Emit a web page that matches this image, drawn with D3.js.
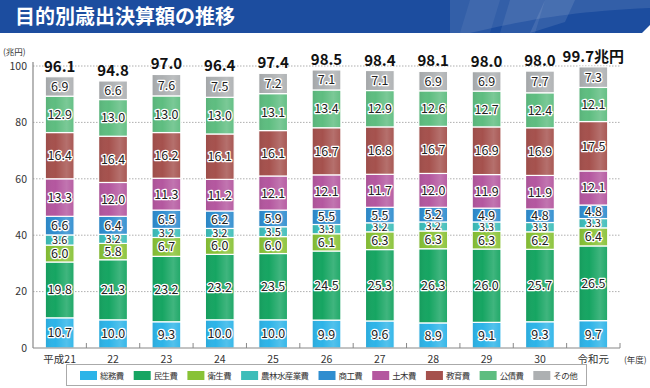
<!DOCTYPE html>
<html>
<head>
<meta charset="utf-8">
<script src="https://cdn.jsdelivr.net/npm/d3@7"></script>
<style>
  body { margin: 0; background: #fff; }
  svg { display: block; font-family: "Noto Sans CJK JP", "Noto Sans", sans-serif; }
</style>
</head>
<body>
<svg width="650" height="388"></svg>
<script>
// data
var years = ['平成21', '22', '23', '24', '25', '26', '27', '28', '29', '30', '令和元'];
var categories = ['総務費', '民生費', '衛生費', '農林水産業費', '商工費', '土木費', '教育費', '公債費', 'その他'];
var colors = ['#2db4e8', '#16a562', '#88c236', '#3dbdb9', '#2f8dcf', '#b4579f', '#a5514d', '#5ebd80', '#adb0b2'];

var soumu    = [10.7, 10.0, 9.3, 10.0, 10.0, 9.9, 9.6, 8.9, 9.1, 9.3, 9.7];
var minsei   = [19.8, 21.3, 23.2, 23.2, 23.5, 24.5, 25.3, 26.3, 26.0, 25.7, 26.5];
var eisei    = [6.0, 5.8, 6.7, 6.0, 6.0, 6.1, 6.3, 6.3, 6.3, 6.2, 6.4];
var nourin   = [3.6, 3.2, 3.2, 3.2, 3.5, 3.3, 3.2, 3.2, 3.3, 3.3, 3.3];
var shoukou  = [6.6, 6.4, 6.5, 6.2, 5.9, 5.5, 5.5, 5.2, 4.9, 4.8, 4.8];
var doboku   = [13.3, 12.0, 11.3, 11.2, 12.1, 12.1, 11.7, 12.0, 11.9, 11.9, 12.1];
var kyouiku  = [16.4, 16.4, 16.2, 16.1, 16.1, 16.7, 16.8, 16.7, 16.9, 16.9, 17.5];
var kousai   = [12.9, 13.0, 13.0, 13.0, 13.1, 13.4, 12.9, 12.6, 12.7, 12.4, 12.1];
var sonota   = [6.9, 6.6, 7.6, 7.5, 7.2, 7.1, 7.1, 6.9, 6.9, 7.7, 7.3];
var totals   = [96.1, 94.8, 97.0, 96.4, 97.4, 98.5, 98.4, 98.1, 98.0, 98.0, 99.7];
var yTicks   = [0, 20, 40, 60, 80, 100];

var series = [soumu, minsei, eisei, nourin, shoukou, doboku, kyouiku, kousai, sonota];

var svg = d3.select('svg');
var defs = svg.append('defs');

// title bar
svg.append('rect')
    .attr('x', 0).attr('y', 0).attr('width', 650).attr('height', 33)
    .attr('fill', '#1c4d9f');
var deco = svg.append('g').attr('fill', '#ffffff');
deco.append('path').attr('d', 'M450,0 L650,0 L650,8 C560,12 520,22 470,33 L450,33 Z').attr('opacity', 0.10);
deco.append('path').attr('d', 'M470,0 L500,0 L490,33 L460,33 Z').attr('opacity', 0.06);
deco.append('path').attr('d', 'M510,0 L545,0 L535,33 L500,33 Z').attr('opacity', 0.08);
deco.append('path').attr('d', 'M545,0 L575,0 L565,22 L530,33 Z').attr('opacity', 0.10);
deco.append('path').attr('d', 'M642,33 L650,25 L650,33 Z').attr('opacity', 1);
svg.append('text')
    .attr('x', 15).attr('y', 24)
    .attr('fill', '#fff')
    .attr('font-size', 20)
    .attr('font-weight', 'bold')
    .text('目的別歳出決算額の推移');

var padding = {t: 66, l: 33, r: 30, b: 40};
var chartWidth = 620 - padding.l;
var chartHeight = 348 - padding.t;

var chartEls = svg.append('g')
    .attr('transform', 'translate(' + [padding.l, padding.t] + ')');

var xScale = d3.scaleBand()
    .domain(years)
    .range([0, chartWidth])
    .paddingInner(0.46)
    .paddingOuter(0.23);

var xTickScale = d3.scaleLinear()
    .domain([0, years.length])
    .range([0, chartWidth]);

var yScale = d3.scaleLinear()
    .domain([0, 100])
    .range([chartHeight, 0]);

// gridlines
chartEls.append('g')
    .selectAll('line')
    .data(yTicks.filter(function(d) { return d > 0; }))
    .enter().append('line')
    .attr('x1', 0).attr('x2', chartWidth)
    .attr('y1', function(d) { return yScale(d); })
    .attr('y2', function(d) { return yScale(d); })
    .attr('stroke', '#9a9a9a')
    .attr('stroke-width', 0.8)
    .attr('stroke-dasharray', '1.5,1.5');

// y axis
var yAxisG = chartEls.append('g')
    .call(d3.axisLeft(yScale).tickValues(yTicks).tickSize(0).tickPadding(6));
yAxisG.select('.domain').attr('stroke', '#888').attr('stroke-width', 1.2).attr('d', 'M0,' + chartHeight + 'V-4');
yAxisG.selectAll('text').attr('font-size', 10.5).attr('fill', '#333')
    .attr('font-family', '"Noto Sans CJK JP", sans-serif');

svg.append('text')
    .attr('x', 3).attr('y', 55)
    .attr('font-size', 8.5).attr('fill', '#333')
    .text('(兆円)');

// stacked bars
var stackRows = years.map(function(y, i) {
    var row = {year: y};
    categories.forEach(function(c, k) { row[c] = series[k][i]; });
    return row;
});
var stacked = d3.stack().keys(categories)(stackRows);

// highlight overlay
var hl = defs.append('linearGradient').attr('id', 'shine')
    .attr('x1', '0%').attr('x2', '100%').attr('y1', '0%').attr('y2', '0%');
hl.append('stop').attr('offset', '0%').attr('stop-color', '#000').attr('stop-opacity', 0.06);
hl.append('stop').attr('offset', '35%').attr('stop-color', '#fff').attr('stop-opacity', 0.0);
hl.append('stop').attr('offset', '75%').attr('stop-color', '#fff').attr('stop-opacity', 0.18);
hl.append('stop').attr('offset', '100%').attr('stop-color', '#fff').attr('stop-opacity', 0.05);

var layers = chartEls.selectAll('.layer')
    .data(stacked)
    .enter().append('g')
    .attr('class', 'layer');

layers.selectAll('rect.seg')
    .data(function(d) { return d.map(function(p) { return {p: p, key: d.key}; }); })
    .enter().append('rect')
    .attr('class', 'seg')
    .attr('x', function(d) { return xScale(d.p.data.year); })
    .attr('width', xScale.bandwidth())
    .attr('y', function(d) { return yScale(d.p[1]); })
    .attr('height', function(d) { return yScale(d.p[0]) - yScale(d.p[1]); })
    .attr('fill', function(d) { return colors[categories.indexOf(d.key)]; })
    .attr('stroke', '#fff')
    .attr('stroke-width', 1.2);

layers.selectAll('rect.shine')
    .data(function(d) { return d.map(function(p) { return {p: p, key: d.key}; }); })
    .enter().append('rect')
    .attr('class', 'shine')
    .attr('x', function(d) { return xScale(d.p.data.year) + 0.6; })
    .attr('width', xScale.bandwidth() - 1.2)
    .attr('y', function(d) { return yScale(d.p[1]) + 0.6; })
    .attr('height', function(d) { return Math.max(0, yScale(d.p[0]) - yScale(d.p[1]) - 1.2); })
    .attr('fill', 'url(#shine)');

// small segments (3.x) get a slightly smaller label so they don't collide
layers.selectAll('text')
    .data(function(d) { return d.map(function(p) { return {p: p, key: d.key}; }); })
    .enter().append('text')
    .attr('x', function(d) { return xScale(d.p.data.year) + xScale.bandwidth() / 2; })
    .attr('y', function(d) { return (yScale(d.p[0]) + yScale(d.p[1])) / 2; })
    .attr('dy', '0.36em')
    .attr('text-anchor', 'middle')
    .attr('font-size', function(d) { return d.key === '農林水産業費' ? 11 : 12.5; })
    .attr('fill', '#222')
    .attr('stroke', '#fff')
    .attr('stroke-width', 2.6)
    .attr('stroke-linejoin', 'round')
    .attr('paint-order', 'stroke')
    .text(function(d) { return d.p.data[d.key].toFixed(1); });

// totals
chartEls.append('g')
    .selectAll('text')
    .data(totals)
    .enter().append('text')
    .attr('x', function(d, i) { return xScale(years[i]) + xScale.bandwidth() / 2; })
    .attr('y', function(d, i) { return yScale(stacked[stacked.length - 1][i][1]) - 5; })
    .attr('text-anchor', 'middle')
    .attr('font-size', 15)
    .attr('font-weight', 'bold')
    .attr('fill', '#111')
    .text(function(d, i) { return d.toFixed(1) + (i === totals.length - 1 ? '兆円' : ''); });

// x axis
var xAxisG = chartEls.append('g')
    .attr('transform', 'translate(' + [0, chartHeight] + ')');
xAxisG.append('line')
    .attr('x1', 0).attr('x2', chartWidth)
    .attr('stroke', '#888').attr('stroke-width', 1.2);
xAxisG.selectAll('line.tick')
    .data(d3.range(1, years.length + 1))
    .enter().append('line')
    .attr('class', 'tick')
    .attr('x1', function(d) { return xTickScale(d); })
    .attr('x2', function(d) { return xTickScale(d); })
    .attr('y1', 0).attr('y2', -5)
    .attr('stroke', '#888').attr('stroke-width', 1);
xAxisG.selectAll('text')
    .data(years)
    .enter().append('text')
    .attr('x', function(d) { return xScale(d) + xScale.bandwidth() / 2; })
    .attr('y', 15)
    .attr('text-anchor', 'middle')
    .attr('font-size', 10.5)
    .attr('fill', '#333')
    .text(function(d) { return d; });
xAxisG.append('text')
    .attr('x', chartWidth + 4).attr('y', 15)
    .attr('font-size', 8.5).attr('fill', '#333')
    .text('(年度)');

// legend
var legend = svg.append('g');
legend.append('rect')
    .attr('x', 66.5).attr('y', 364.5).attr('width', 520).attr('height', 21)
    .attr('fill', '#fff').attr('stroke', '#aaa').attr('stroke-width', 1);
var lx = 80;
categories.forEach(function(c, k) {
    var item = legend.append('g').attr('transform', 'translate(' + [lx, 371] + ')');
    item.append('rect').attr('width', 17).attr('height', 9).attr('fill', colors[k]);
    var t = item.append('text')
        .attr('x', 20).attr('y', 8.3)
        .attr('font-size', 8.5).attr('letter-spacing', -0.6).attr('fill', '#333')
        .text(c);
    lx += 20 + t.node().getComputedTextLength() + 10;
});
</script>
</body>
</html>
